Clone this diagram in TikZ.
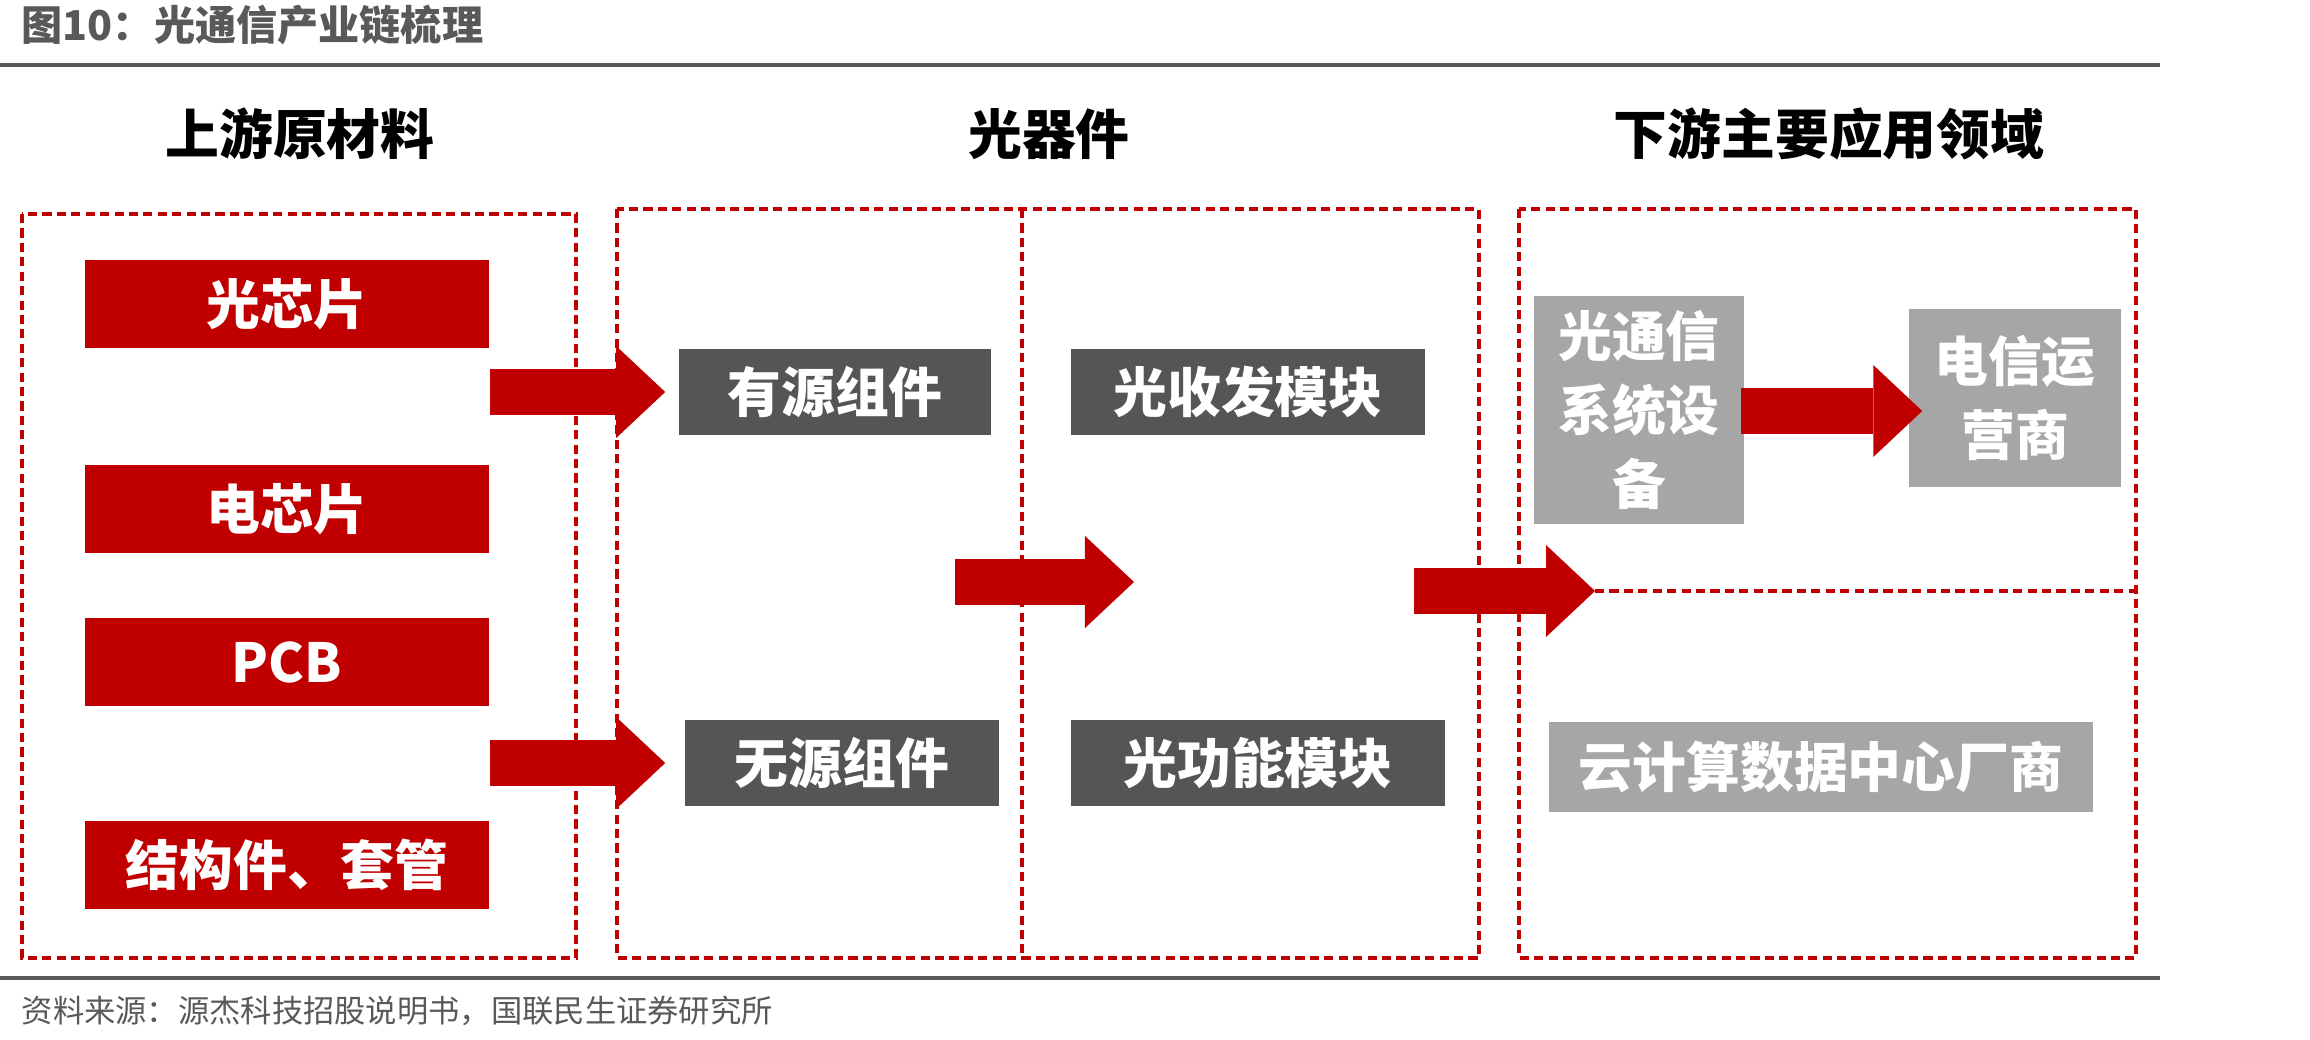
\documentclass[tikz,border=0pt]{standalone}
\usepackage{fontspec}
\setmainfont{Noto Sans CJK SC}
\usetikzlibrary{arrows.meta}
\definecolor{chainred}{HTML}{C00000}
\definecolor{darkbox}{HTML}{555555}
\definecolor{lightbox}{HTML}{A6A6A6}
\definecolor{rulegray}{HTML}{595959}

\begin{document}
\begin{tikzpicture}[x=0.01cm, y=-0.01cm,
  boxfont/.style={font=\fontsize{15.3}{21}\selectfont\bfseries},
  redbox/.style={boxfont, fill=chainred, text=white, inner sep=0pt, minimum width=4.04cm, minimum height=0.87cm},
  darkgraybox/.style={boxfont, fill=darkbox, text=white, inner sep=0pt, minimum height=0.86cm},
  lightgraybox/.style={boxfont, fill=lightbox, text=white, inner sep=0pt, align=center},
  header/.style={boxfont, text=black, inner sep=0pt},
  dashbox/.style={draw=chainred, line width=0.9pt, dash pattern=on 2.6pt off 1.5pt},
  bigarrow/.style={draw=chainred, line width=0.46cm, -{Triangle[length=0.49cm, width=0.92cm, line width=0pt]}},
  rule/.style={draw=rulegray, line width=1.2pt}]
  \useasboundingbox (0,0) rectangle (2310,1040);

  \node[anchor=west, inner sep=0pt, text=rulegray, font=\fontsize{11.7}{14}\selectfont\bfseries] (title) at (21,25) {图10：光通信产业链梳理};
  \draw[rule] (0,65) -- (2160,65);
  \draw[rule] (0,978) -- (2160,978);
  \node[anchor=west, inner sep=0pt, text=rulegray, font=\fontsize{8.9}{11}\selectfont] (source) at (21,1011) {资料来源：源杰科技招股说明书，国联民生证券研究所};

  \node[header] (hdrup) at (300,134) {上游原材料};
  \node[header] (hdrmid) at (1049,134) {光器件};
  \node[header] (hdrdown) at (1829,134) {下游主要应用领域};

  \draw[dashbox] (22,214) rectangle (576,958);
  \draw[dashbox] (617,209) rectangle (1479,958);
  \draw[dashbox] (1022,209) -- (1022,958);
  \draw[dashbox] (1519,209) rectangle (2136,958);

  \node[redbox] (optchip) at (287,304) {光芯片};
  \node[redbox] (elecchip) at (287,509) {电芯片};
  \node[redbox] (pcb) at (287,662) {PCB};
  \node[redbox] (housing) at (287,865) {结构件、套管};

  \node[darkgraybox, minimum width=3.12cm] (active) at (835,392) {有源组件};
  \node[darkgraybox, minimum width=3.14cm] (passive) at (842,763) {无源组件};
  \node[darkgraybox, minimum width=3.53cm] (trx) at (1248,392) {光收发模块};
  \node[darkgraybox, minimum width=3.73cm] (func) at (1258,763) {光功能模块};

  \node[lightgraybox, minimum width=2.10cm, minimum height=2.27cm] (sysequip) at (1639,410) {光通信\\系统设\\备};
  \node[lightgraybox, minimum width=2.12cm, minimum height=1.77cm] (telecom) at (2015,398) {电信运\\营商};
  \node[lightgraybox, minimum width=5.43cm, minimum height=0.90cm] (cloud) at (1821,767) {云计算数据中心厂商};

  \coordinate (midstart) at (955,582);
  \coordinate (midend) at (1134,582);
  \coordinate (downstart) at (1414,591);
  \coordinate (split) at (1595,591);

  \draw[bigarrow, shorten >=0.13cm] (optchip.east |- active.west) -- (active.west);
  \draw[bigarrow, shorten >=0.19cm] (pcb.east |- passive.west) -- (passive.west);
  \draw[bigarrow] (midstart) -- (midend);
  \draw[bigarrow] (downstart) -- (split);
  \draw[dashbox] (split) -- (2136,591);
  \draw[bigarrow, shorten <=-0.04cm, shorten >=-0.14cm] (sysequip.east |- 0,411) -- (telecom.west |- 0,411);
\end{tikzpicture}
\end{document}
